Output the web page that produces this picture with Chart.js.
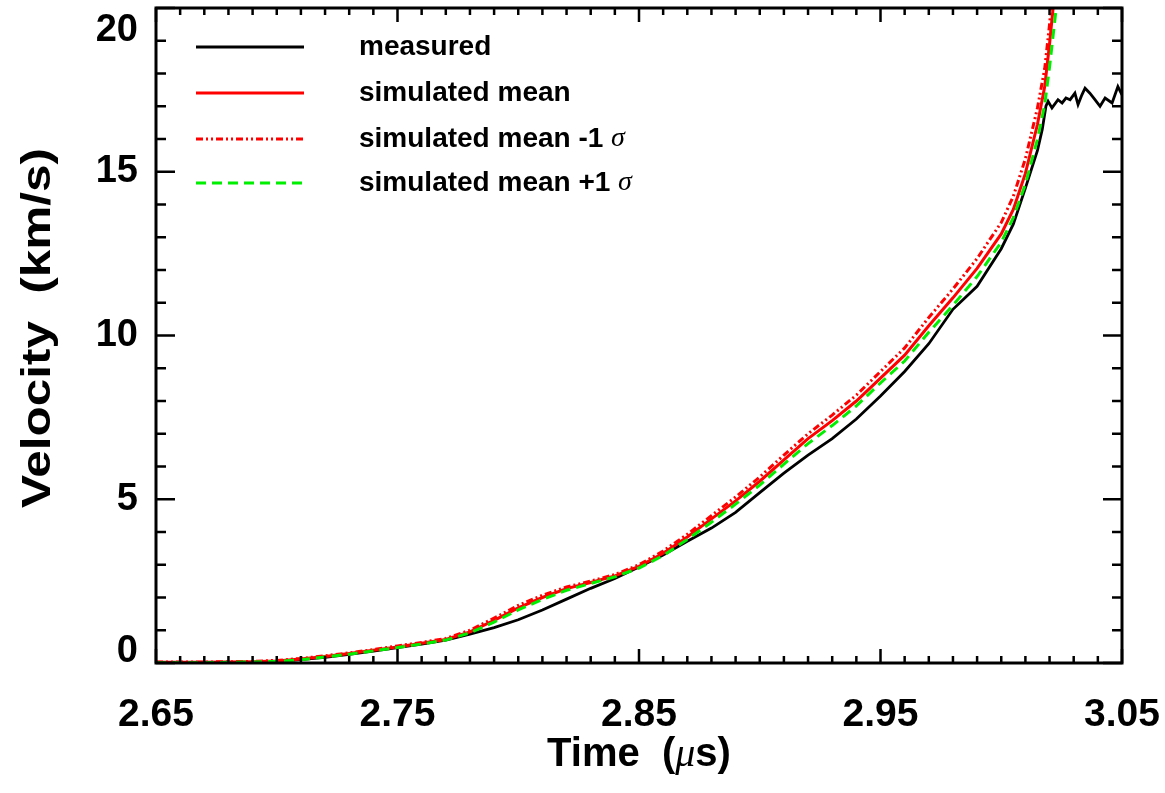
<!DOCTYPE html>
<html>
<head>
<meta charset="utf-8">
<title>Velocity vs time</title>
<script src="https://cdn.jsdelivr.net/npm/chart.js@4.4.1/dist/chart.umd.min.js"></script>
<style>
  body { margin: 0; background: #fff; }
  #wrap { width: 1165px; height: 793px; }
</style>
</head>
<body>
<div id="wrap"><canvas id="velChart" width="1165" height="793"></canvas></div>
<script>
// Données (temps en µs, vitesse en km/s)
const simTime = [2.65, 2.66, 2.67, 2.68, 2.69, 2.70, 2.71, 2.72, 2.73, 2.74, 2.75, 2.76, 2.77, 2.78, 2.79,
  2.80, 2.81, 2.82, 2.83, 2.84, 2.85, 2.86, 2.87, 2.88, 2.89, 2.90, 2.91, 2.92, 2.93, 2.94, 2.95, 2.96,
  2.97, 2.98, 2.99, 3.00, 3.005, 3.01, 3.015, 3.018, 3.02, 3.022, 3.025];
const simMean = [0.02, 0.02, 0.02, 0.03, 0.04, 0.06, 0.12, 0.2, 0.29, 0.39, 0.49, 0.6, 0.72, 0.95, 1.3,
  1.68, 2.0, 2.27, 2.46, 2.66, 2.95, 3.35, 3.85, 4.4, 4.95, 5.55, 6.2, 6.85, 7.4, 8.0, 8.7, 9.4,
  10.3, 11.15, 12.05, 13.1, 13.85, 14.95, 16.45, 17.6, 18.9, 20.4, 22.5];
const simMinus = [0.03, 0.03, 0.03, 0.04, 0.05, 0.08, 0.14, 0.22, 0.31, 0.41, 0.52, 0.63, 0.75, 1.0, 1.37,
  1.76, 2.07, 2.32, 2.5, 2.7, 3.0, 3.42, 3.93, 4.5, 5.07, 5.68, 6.35, 7.0, 7.57, 8.18, 8.9, 9.62,
  10.55, 11.42, 12.35, 13.45, 14.25, 15.4, 16.95, 18.15, 19.5, 21.1, 23.2];
const simPlus = [0.01, 0.01, 0.01, 0.02, 0.03, 0.05, 0.1, 0.18, 0.27, 0.37, 0.47, 0.58, 0.7, 0.92, 1.25,
  1.62, 1.94, 2.22, 2.43, 2.63, 2.9, 3.28, 3.77, 4.3, 4.85, 5.43, 6.07, 6.7, 7.25, 7.85, 8.55, 9.22,
  10.1, 10.92, 11.8, 12.85, 13.6, 14.62, 16.0, 17.05, 18.2, 19.5, 21.5];

const measTime = [2.65, 2.66, 2.67, 2.68, 2.69, 2.70, 2.71, 2.72, 2.73, 2.74, 2.75, 2.76, 2.77, 2.78, 2.79,
  2.80, 2.81, 2.82, 2.83, 2.84, 2.85, 2.86, 2.87, 2.88, 2.89, 2.90, 2.91, 2.92, 2.93, 2.94, 2.95, 2.96,
  2.97, 2.98, 2.99, 3.00, 3.005, 3.01, 3.015, 3.017, 3.0185, 3.0194, 3.021, 3.0235, 3.0252, 3.0268,
  3.0285, 3.0305, 3.0318, 3.0334, 3.0347, 3.0367, 3.0388, 3.0409, 3.043, 3.0459, 3.0483, 3.05];
const measVel = [0.0, 0.01, 0.0, 0.02, 0.02, 0.04, 0.1, 0.17, 0.26, 0.36, 0.47, 0.58, 0.7, 0.88, 1.08,
  1.32, 1.62, 1.95, 2.28, 2.58, 2.93, 3.3, 3.72, 4.12, 4.6, 5.2, 5.8, 6.35, 6.85, 7.45, 8.15, 8.9,
  9.75, 10.8, 11.5, 12.65, 13.4, 14.5, 15.65, 16.3, 17.0, 17.15, 16.95, 17.2, 17.1, 17.25,
  17.2, 17.4, 17.05, 17.35, 17.55, 17.4, 17.2, 17.0, 17.25, 17.1, 17.6, 17.35];

const xTicks = [2.65, 2.75, 2.85, 2.95, 3.05];
const yTicks = [0, 5, 10, 15, 20];
const legendLabels = ["measured", "simulated mean", "simulated mean -1 ", "simulated mean +1 "];

const FONT = "'Liberation Sans', Arial, Helvetica, sans-serif";
const SERIF = "'Liberation Serif', 'Times New Roman', serif";

function toPoints(xs, ys) {
    return xs.map((x, i) => ({ x: x, y: ys[i] }));
}

// Styles des séries (même ordre que la légende)
const seriesStyle = [
    { color: "#000000", width: 2.8, dash: [] },
    { color: "#ff0000", width: 3, dash: [] },
    { color: "#ff0000", width: 3, dash: [7, 3, 2, 3, 2, 3] },
    { color: "#00ee00", width: 3, dash: [10, 6] }
];

// Plugin : cadre, graduations façon IDL, étiquettes Y, titres et légende
const idlFrame = {
    id: "idlFrame",
    afterDraw(chart) {
        const ctx = chart.ctx;
        const a = chart.chartArea;
        const xs = chart.scales.x;
        const ys = chart.scales.y;
        ctx.save();
        ctx.strokeStyle = "#000";
        ctx.lineWidth = 3;
        ctx.strokeRect(a.left, a.top, a.right - a.left, a.bottom - a.top);

        // graduations X
        ctx.lineWidth = 2.5;
        for (let i = 0; i <= 40; i++) {
            const px = xs.getPixelForValue(2.65 + i * 0.01);
            const len = i % 10 === 0 ? 14 : 7;
            ctx.beginPath();
            ctx.moveTo(px, a.bottom); ctx.lineTo(px, a.bottom - len);
            ctx.moveTo(px, a.top); ctx.lineTo(px, a.top + len);
            ctx.stroke();
        }
        // graduations Y
        for (let i = 0; i <= 20; i++) {
            const py = ys.getPixelForValue(i);
            const len = i % 5 === 0 ? 19 : 10;
            ctx.beginPath();
            ctx.moveTo(a.left, py); ctx.lineTo(a.left + len, py);
            ctx.moveTo(a.right, py); ctx.lineTo(a.right - len, py);
            ctx.stroke();
        }

        // étiquettes Y (0 et 20 restent dans le cadre)
        ctx.fillStyle = "#000";
        ctx.font = "bold 38px " + FONT;
        ctx.textAlign = "right";
        yTicks.forEach(v => {
            let py = ys.getPixelForValue(v);
            ctx.textBaseline = "middle";
            if (v === ys.max) ctx.textBaseline = "top";
            if (v === ys.min) ctx.textBaseline = "alphabetic";
            ctx.fillText(String(v), a.left - 18, py + (v === ys.min ? -1 : (v === ys.max ? 4 : 0)));
        });

        // titre X : "Time  (µs)", centré sous le cadre
        ctx.textBaseline = "alphabetic";
        ctx.textAlign = "left";
        const parts = [["Time  (", "bold 40px " + FONT], ["\u03bc", "italic 40px " + SERIF], ["s)", "bold 40px " + FONT]];
        let total = 0;
        parts.forEach(p => { ctx.font = p[1]; total += ctx.measureText(p[0]).width; });
        let tx = (a.left + a.right) / 2 - total / 2;
        parts.forEach(p => {
            ctx.font = p[1];
            ctx.fillText(p[0], tx, 766);
            tx += ctx.measureText(p[0]).width;
        });

        // titre Y, étiré pour occuper la même longueur que l'original
        ctx.save();
        ctx.translate(50, 328);
        ctx.rotate(-Math.PI / 2);
        ctx.textAlign = "center";
        ctx.font = "bold 40px " + FONT;
        const yTitle = "Velocity  (km/s)";
        const sx = 360 / ctx.measureText(yTitle).width;
        ctx.scale(sx, 1);
        ctx.fillText(yTitle, 0, 0);
        ctx.restore();

        // légende
        const rowY = [47, 93, 139, 183];
        legendLabels.forEach((label, i) => {
            const st = seriesStyle[i];
            ctx.strokeStyle = st.color;
            ctx.lineWidth = st.width;
            ctx.setLineDash(st.dash);
            ctx.beginPath();
            ctx.moveTo(196, rowY[i]); ctx.lineTo(304, rowY[i]);
            ctx.stroke();
            ctx.setLineDash([]);
            ctx.fillStyle = "#000";
            ctx.font = "bold 28px " + FONT;
            ctx.textBaseline = "middle";
            ctx.fillText(label, 359, rowY[i]);
            if (i >= 2) {
                const w = ctx.measureText(label).width;
                ctx.font = "italic 28px " + SERIF;
                ctx.fillText("\u03c3", 359 + w, rowY[i]);
            }
        });
        ctx.restore();
    }
};

const ctx = document.getElementById("velChart").getContext("2d");
const velChart = new Chart(ctx, {
    type: "line",
    data: {
        datasets: [
            { label: legendLabels[0], data: toPoints(measTime, measVel), order: 4 },
            { label: legendLabels[1], data: toPoints(simTime, simMean), order: 3 },
            { label: legendLabels[2], data: toPoints(simTime, simMinus), order: 2 },
            { label: legendLabels[3], data: toPoints(simTime, simPlus), order: 1 }
        ].map((d, i) => Object.assign(d, {
            borderColor: seriesStyle[i].color,
            borderWidth: seriesStyle[i].width,
            borderDash: seriesStyle[i].dash,
            pointRadius: 0,
            tension: 0,
            fill: false
        }))
    },
    options: {
        responsive: false,
        animation: false,
        devicePixelRatio: 1,
        layout: { padding: { left: 0, right: 43, top: 8, bottom: 0 } },
        plugins: {
            legend: { display: false },
            tooltip: { enabled: false }
        },
        scales: {
            x: {
                type: "linear",
                min: 2.65,
                max: 3.05,
                grid: { display: false, drawTicks: false },
                border: { display: false },
                afterBuildTicks: (scale) => { scale.ticks = xTicks.map(v => ({ value: v })); },
                afterFit: (scale) => {
                    scale.height = 130;
                    scale.paddingLeft = 0;
                    scale.paddingRight = 0;
                },
                ticks: {
                    autoSkip: false,
                    maxRotation: 0,
                    padding: 29,
                    color: "#000",
                    font: { family: FONT, size: 39, weight: "bold" },
                    callback: (v) => Number(v).toFixed(2)
                }
            },
            y: {
                type: "linear",
                min: 0,
                max: 20,
                grid: { display: false, drawTicks: false },
                border: { display: false },
                afterFit: (scale) => {
                    scale.width = 156;
                    scale.paddingTop = 0;
                    scale.paddingBottom = 0;
                },
                ticks: { display: false }
            }
        }
    },
    plugins: [idlFrame]
});
</script>
</body>
</html>
